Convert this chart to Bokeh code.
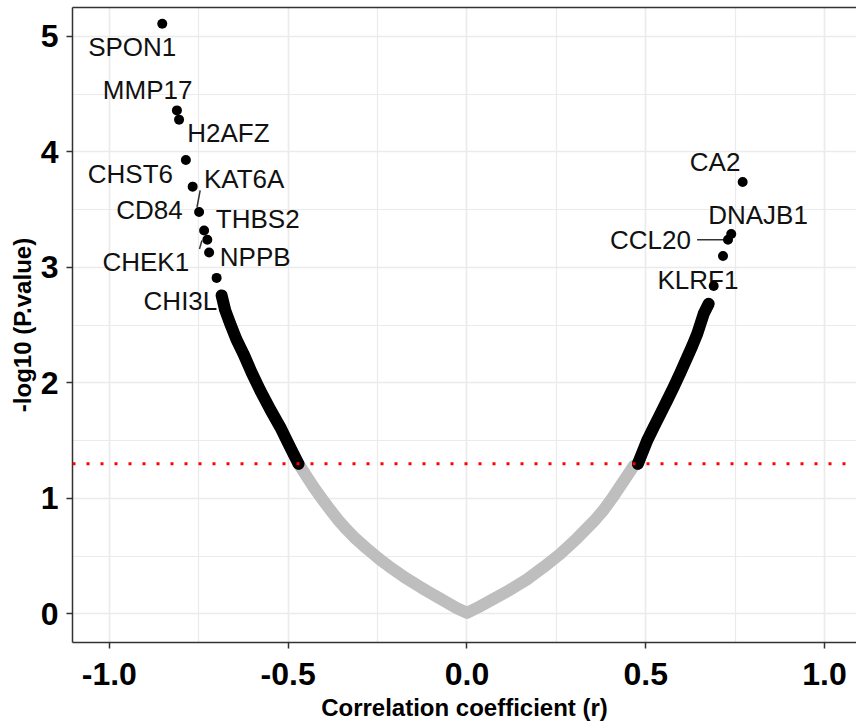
import math
from bokeh.plotting import figure
from bokeh.models import Range1d, FixedTicker, NumeralTickFormatter, Span, Title, LinearAxis, ColumnDataSource
from bokeh.core.properties import value
from bokeh.embed import file_html
from bokeh.resources import INLINE

# ---- data ----
# non-significant genes (grey band), r vs -log10(p)
grey_r = [-0.471, -0.448, -0.429, -0.406, -0.382, -0.359, -0.336, -0.3125, -0.289, -0.266,
          -0.243, -0.219, -0.196, -0.173, -0.149, -0.126, -0.103, -0.079, -0.056, -0.028,
          0.0, 0.037, 0.074, 0.121, 0.168, 0.214, 0.261, 0.308, 0.354, 0.382, 0.410,
          0.438, 0.466, 0.478]
grey_p = [1.30, 1.19, 1.10, 1.00, 0.90, 0.81, 0.73, 0.655, 0.59, 0.53,
          0.47, 0.415, 0.365, 0.315, 0.27, 0.225, 0.183, 0.14, 0.10, 0.05,
          0.01, 0.066, 0.13, 0.21, 0.30, 0.405, 0.52, 0.655, 0.80, 0.90, 1.02,
          1.15, 1.28, 1.30]

# significant genes, negative branch (black band)
neg_r = [-0.471, -0.497, -0.522, -0.550, -0.578, -0.602, -0.625, -0.645, -0.662, -0.676, -0.686]
neg_p = [1.30, 1.46, 1.617, 1.77, 1.935, 2.09, 2.253, 2.38, 2.513, 2.63, 2.758]

# significant genes, positive branch (black band)
pos_r = [0.478, 0.504, 0.522, 0.541, 0.560, 0.578, 0.597, 0.616, 0.630, 0.644, 0.662, 0.676]
pos_p = [1.30, 1.502, 1.615, 1.733, 1.85, 1.964, 2.09, 2.223, 2.32, 2.426, 2.599, 2.686]

# top genes (points)
top_r = [-0.852, -0.811, -0.805, -0.786, -0.767, -0.749, -0.735, -0.726, -0.721, -0.700,
         0.771, 0.739, 0.730, 0.716, 0.690]
top_p = [5.11, 4.36, 4.28, 3.93, 3.70, 3.48, 3.32, 3.24, 3.13, 2.91,
         3.74, 3.29, 3.24, 3.10, 2.84]

# gene labels and their positions
genes = ["SPON1", "MMP17", "H2AFZ", "CHST6", "KAT6A", "CD84", "THBS2", "CHEK1", "NPPB", "CHI3L1",
         "CA2", "DNAJB1", "CCL20", "KLRF1"]
label_r = [-0.936, -0.893, -0.667, -0.941, -0.623, -0.888, -0.585, -0.898, -0.592, -0.781,
           0.694, 0.814, 0.513, 0.646]
label_p = [4.908, 4.539, 4.163, 3.812, 3.768, 3.494, 3.422, 3.046, 3.090, 2.706,
           3.912, 3.451, 3.234, 2.888]

# label connector segments
seg_r0 = [-0.746, -0.741, 0.6435]
seg_p0 = [3.667, 3.234, 3.24]
seg_r1 = [-0.755, -0.748, 0.730]
seg_p1 = [3.52, 3.16, 3.24]

x_ticks = [-1.0, -0.5, 0.0, 0.5, 1.0]
x_minor = [-1.0, -0.75, -0.5, -0.25, 0.0, 0.25, 0.5, 0.75, 1.0]
y_ticks = [0, 1, 2, 3, 4, 5]
y_minor = [0, 0.5, 1, 1.5, 2, 2.5, 3, 3.5, 4, 4.5, 5]
p_cut = -math.log10(0.05)

FONT = "Liberation Sans"

p = figure(width=856, height=725,
           x_range=Range1d(-1.103, 1.0893), y_range=Range1d(-0.247, 5.251),
           output_backend="svg", toolbar_location=None,
           min_border_left=72, min_border_right=0, min_border_top=7, min_border_bottom=83)
p.outline_line_color = None
p.background_fill_color = "white"
p.border_fill_color = "white"

for ax, ticks, minor in ((p.xaxis[0], x_ticks, x_minor), (p.yaxis[0], y_ticks, y_minor)):
    ax.ticker = FixedTicker(ticks=ticks, minor_ticks=minor)
    ax.axis_line_color = "#333333"
    ax.axis_line_width = 1.5
    ax.major_tick_line_color = "#333333"
    ax.major_tick_line_width = 1.5
    ax.major_tick_out = 6
    ax.major_tick_in = 0
    ax.minor_tick_line_color = None
    ax.major_label_text_font = FONT
    ax.major_label_text_font_style = "bold"
    ax.major_label_text_font_size = "32px"
    ax.major_label_text_color = "black"

xa = p.xaxis[0]
xa.formatter = NumeralTickFormatter(format="0.0")
xa.major_label_standoff = 14
xa.axis_label = "Correlation coefficient (r)"
xa.axis_label_text_font = FONT
xa.axis_label_text_font_style = "bold"
xa.axis_label_text_font_size = "24px"
xa.axis_label_text_color = "black"
xa.axis_label_standoff = 6
p.yaxis[0].major_label_standoff = 8

top = LinearAxis(ticker=FixedTicker(ticks=[]), major_label_text_font_size="0px",
                 major_tick_out=0, major_tick_in=0, minor_tick_out=0, minor_tick_in=0,
                 major_label_standoff=0, axis_line_color="#333333", axis_line_width=1.5)
p.add_layout(top, "above")

p.add_layout(Title(text="-log10 (P.value)", align="center", offset=21, standoff=4,
                   text_font=FONT, text_font_style="bold", text_font_size="24px",
                   text_color="black"), "left")

for g in (p.xgrid[0], p.ygrid[0]):
    g.grid_line_color = "#ebebeb"
    g.grid_line_width = 1.5
    g.minor_grid_line_color = "#ebebeb"
    g.minor_grid_line_width = 1.2

# labels first (points are drawn over them, as in the reference)
lab_src = ColumnDataSource(dict(x=label_r, y=label_p, text=genes))
p.text(x="x", y="y", text="text", source=lab_src, text_font=value(FONT),
       text_font_size=value("26px"), text_align="center", text_baseline="alphabetic",
       text_color="#111111")
p.segment(x0=seg_r0, y0=seg_p0, x1=seg_r1, y1=seg_p1, line_color="#333333", line_width=1.5)

# grey band
p.line(grey_r, grey_p, line_color="#bebebe", line_width=12, line_cap="round", line_join="round")
p.scatter(grey_r, grey_p, size=11, fill_color="#bebebe", line_color=None)

# black bands
for rr, pp in ((neg_r, neg_p), (pos_r, pos_p)):
    p.line(rr, pp, line_color="black", line_width=12, line_cap="round", line_join="round")
    p.scatter(rr, pp, size=11, fill_color="black", line_color=None)

p.scatter(top_r, top_p, size=10, fill_color="black", line_color=None)

p.add_layout(Span(location=p_cut, dimension="width", line_color="red", line_width=3,
                  line_dash="3 11"))

open("out.html", "w").write(file_html(p, INLINE))
